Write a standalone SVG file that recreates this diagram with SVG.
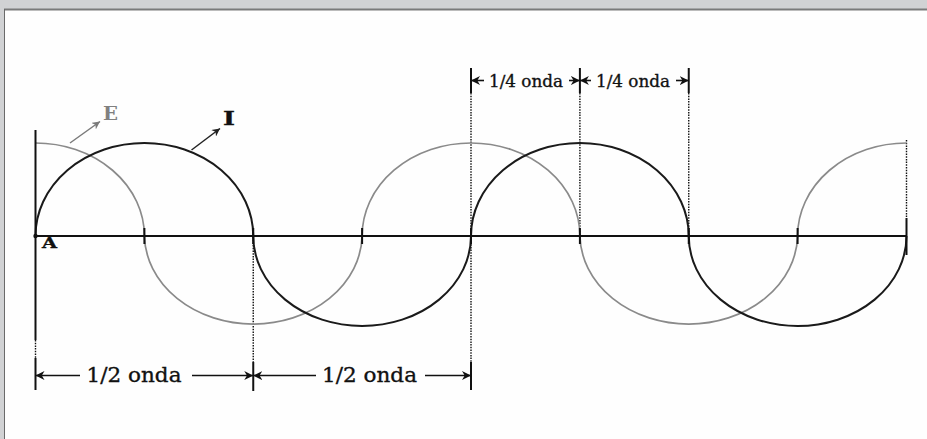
<svg xmlns="http://www.w3.org/2000/svg" width="927" height="439" viewBox="0 0 927 439">
<style>
.axis{stroke:#111;stroke-width:2;fill:none}
.tick{stroke:#111;stroke-width:2}
.dot{stroke:#111;stroke-width:1.4;stroke-dasharray:1.5 1.2;fill:none}
.curveI{stroke:#1a1a1a;stroke-width:2;fill:none}
.curveE{stroke:#8a8a8a;stroke-width:1.7;fill:none}
.dim{stroke:#111;stroke-width:1.6;fill:none}
.t{font-family:"DejaVu Serif","Liberation Serif",serif;fill:#111;stroke:#111;stroke-width:0.35}
</style>
<defs>
<marker id="ah" viewBox="0 0 10 10" refX="10" refY="5" markerWidth="9" markerHeight="9" markerUnits="userSpaceOnUse" orient="auto-start-reverse">
<path d="M0,0 L10,5 L0,10 L3,5 z" fill="#111"/>
</marker>
<marker id="ahg" viewBox="0 0 10 10" refX="10" refY="5" markerWidth="8" markerHeight="8" markerUnits="userSpaceOnUse" orient="auto">
<path d="M0,0 L10,5 L0,10 L3,5 z" fill="#7a7a7a"/>
</marker>
<marker id="ahk" viewBox="0 0 10 10" refX="10" refY="5" markerWidth="8" markerHeight="8" markerUnits="userSpaceOnUse" orient="auto">
<path d="M0,0 L10,5 L0,10 L3,5 z" fill="#222"/>
</marker>
</defs>
<rect x="0" y="0" width="927" height="439" fill="#d1d2d4"/>
<rect x="4.5" y="10" width="923" height="430" fill="#fefefe"/>
<line x1="4" y1="9.5" x2="927" y2="9.5" stroke="#7a7a7a" stroke-width="2"/>
<line x1="4.5" y1="9" x2="4.5" y2="439" stroke="#6a6a6a" stroke-width="1"/>

<g id="guides">
<line class="dot" x1="35.5" y1="340" x2="35.5" y2="358"/>
<line class="dot" x1="253.25" y1="237" x2="253.25" y2="362"/>
<line class="dot" x1="471" y1="93" x2="471" y2="362"/>
<line class="dot" x1="579.9" y1="93" x2="579.9" y2="236"/>
<line class="dot" x1="688.75" y1="93" x2="688.75" y2="236"/>
<line class="dot" x1="906.5" y1="140" x2="906.5" y2="218"/>
</g>

<g id="curveE">
<path class="curveE" d="M35.5,143 A108.875,93 0 0 1 144.4,236 A108.875,90 0 0 0 362.1,236 A108.875,93 0 0 1 579.9,236 A108.875,90 0 0 0 797.6,236 A108.875,93 0 0 1 906.5,143"/>
<line x1="70" y1="143" x2="100" y2="121.5" stroke="#7a7a7a" stroke-width="1.5" marker-end="url(#ahg)"/>
<text x="103" y="120" font-family="DejaVu Serif, Liberation Serif, serif" font-size="18" font-weight="bold" fill="#808080" textLength="15" lengthAdjust="spacingAndGlyphs">E</text>
</g>

<g id="curveI">
<path class="curveI" d="M35.5,236 A108.875,93 0 0 1 253.25,236 A108.875,90 0 0 0 471,236 A108.875,93 0 0 1 688.75,236 A108.875,90 0 0 0 906.5,236"/>
<line x1="191.5" y1="150" x2="220" y2="128.5" stroke="#222" stroke-width="1.5" marker-end="url(#ahk)"/>
<text class="t" x="223" y="124.5" font-size="19" font-weight="bold" textLength="12" lengthAdjust="spacingAndGlyphs">I</text>
</g>

<g id="axis">
<line class="axis" x1="35.5" y1="236" x2="906.5" y2="236"/>
<line class="axis" x1="35.5" y1="130" x2="35.5" y2="340"/>
<circle cx="35.5" cy="236" r="2.2" fill="#111"/>
<g class="tick">
<line x1="144.4" y1="228" x2="144.4" y2="244"/>
<line x1="253.25" y1="228" x2="253.25" y2="244"/>
<line x1="362.1" y1="228" x2="362.1" y2="244"/>
<line x1="471" y1="228" x2="471" y2="244"/>
<line x1="579.9" y1="228" x2="579.9" y2="244"/>
<line x1="688.75" y1="228" x2="688.75" y2="244"/>
<line x1="797.6" y1="228" x2="797.6" y2="244"/>
<line x1="906.5" y1="218" x2="906.5" y2="255"/>
</g>
<text class="t" x="42" y="248" font-size="14" font-weight="bold" textLength="15" lengthAdjust="spacingAndGlyphs">A</text>
</g>

<g id="quarter-dims">
<line class="tick" x1="471" y1="68" x2="471" y2="93"/>
<line class="tick" x1="579.9" y1="68" x2="579.9" y2="93"/>
<line class="tick" x1="688.75" y1="68" x2="688.75" y2="93"/>
<line class="dim" x1="484" y1="80.5" x2="471" y2="80.5" marker-end="url(#ah)"/>
<text class="t" x="489" y="87" font-size="17" textLength="74" lengthAdjust="spacingAndGlyphs">1/4 onda</text>
<line class="dim" x1="569" y1="80.5" x2="579.9" y2="80.5" marker-end="url(#ah)"/>
<line class="dim" x1="591" y1="80.5" x2="579.9" y2="80.5" marker-end="url(#ah)"/>
<text class="t" x="596" y="87" font-size="17" textLength="74" lengthAdjust="spacingAndGlyphs">1/4 onda</text>
<line class="dim" x1="676" y1="80.5" x2="688.75" y2="80.5" marker-end="url(#ah)"/>
</g>

<g id="half-dims">
<line class="tick" x1="35.5" y1="358" x2="35.5" y2="390"/>
<line class="tick" x1="253.25" y1="362" x2="253.25" y2="391"/>
<line class="tick" x1="471" y1="362" x2="471" y2="390"/>
<line class="dim" x1="80" y1="375.5" x2="35.5" y2="375.5" marker-end="url(#ah)"/>
<text class="t" x="86.5" y="382" font-size="21" textLength="95" lengthAdjust="spacingAndGlyphs">1/2 onda</text>
<line class="dim" x1="192" y1="375.5" x2="253.25" y2="375.5" marker-end="url(#ah)"/>
<line class="dim" x1="316" y1="375.5" x2="253.25" y2="375.5" marker-end="url(#ah)"/>
<text class="t" x="322" y="382" font-size="21" textLength="95" lengthAdjust="spacingAndGlyphs">1/2 onda</text>
<line class="dim" x1="425" y1="375.5" x2="471" y2="375.5" marker-end="url(#ah)"/>
</g>
</svg>
